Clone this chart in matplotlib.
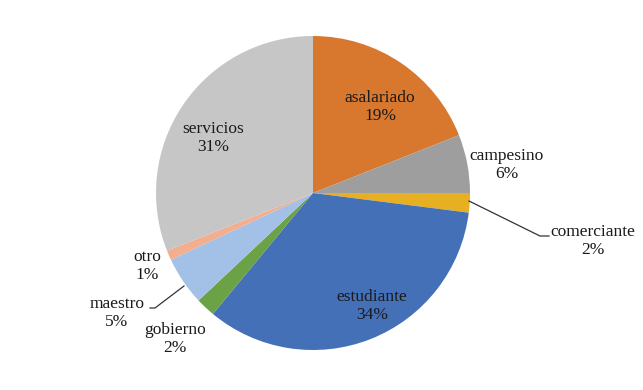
import matplotlib
matplotlib.use("Agg")
import matplotlib.pyplot as plt
import numpy as np

categories = ["asalariado", "campesino", "comerciante", "estudiante",
              "gobierno", "maestro", "otro", "servicios"]
values = [19, 6, 2, 34, 2, 5, 1, 31]
colors = ["#D8782F", "#9E9E9E", "#E6B022", "#4470B8",
          "#6AA245", "#A3C1E6", "#F2AE8E", "#C6C6C6"]

W, H = 643, 390
fig = plt.figure(figsize=(W / 100, H / 100), dpi=100)
ax = fig.add_axes([0, 0, 1, 1])

cx, cy, r = 313, H - 193, 157
wedges, _ = ax.pie(values, colors=colors, startangle=90, counterclock=False,
                   center=(cx, cy), radius=r, frame=True,
                   wedgeprops=dict(linewidth=0))
ax.set_xlim(0, W)
ax.set_ylim(0, H)
ax.axis("off")

# label block centres (pixel coords, y from top)
label_pos = {
    "asalariado": (380, 107),
    "campesino": (507, 165),
    "comerciante": (593, 241),
    "estudiante": (372, 306),
    "gobierno": (175, 339),
    "maestro": (117, 313),
    "otro": (147, 266),
    "servicios": (213, 138),
}
font = dict(family=["Liberation Serif", "DejaVu Serif"], fontsize=12.5,
            color="#1a1a1a")
for cat, v in zip(categories, values):
    x, y = label_pos[cat]
    ax.text(x, H - y, f"{cat}\n{v}%", ha="center", va="center",
            linespacing=1.12, **font)

# leader lines
ax.plot([469, 540, 549], [H - 201, H - 236, H - 236], color="#333333", lw=0.9)
ax.plot([184, 155, 150], [H - 286, H - 308, H - 308], color="#333333", lw=0.9)

fig.savefig("out.png", dpi=100)
